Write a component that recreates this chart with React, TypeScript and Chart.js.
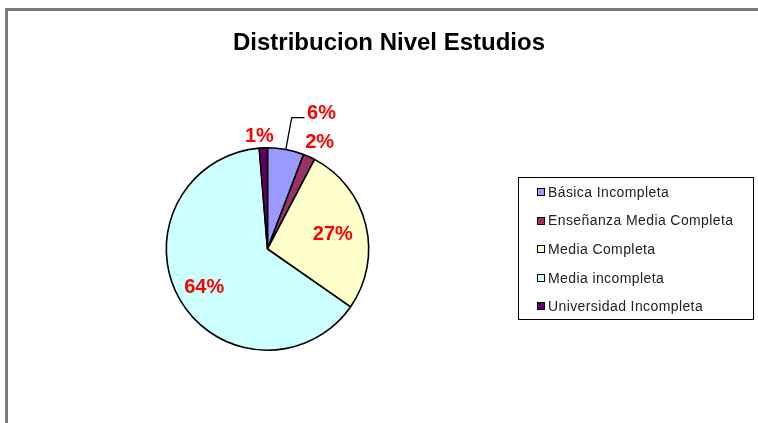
import React, { useEffect, useRef } from 'react';
import { Chart, registerables } from 'chart.js';

Chart.register(...registerables);

const chartTitle = 'Distribucion Nivel Estudios';
const categories = [
  'Básica Incompleta',
  'Enseñanza Media Completa',
  'Media Completa',
  'Media incompleta',
  'Universidad Incompleta',
];
const values = [5.8, 1.9, 27.0, 64.0, 1.3];
const sliceColors = ['#9999FF', '#993366', '#FFFFCC', '#CCFFFF', '#660066'];

// label placement relative to each slice: radial factor and angular shift (degrees)
const labelPlacement = [
  { r: 1.44, shift: 11.3, leader: true },
  { r: 1.17, shift: 1.8, leader: false },
  { r: 0.66, shift: 1.5, leader: false },
  { r: 0.73, shift: -1.1, leader: false },
  { r: 1.11, shift: -1.8, leader: false },
];

const W = 758;
const H = 423;

const decorPlugin = {
  id: 'decor',
  beforeDraw(chart: any) {
    const ctx = chart.ctx;
    ctx.save();
    ctx.fillStyle = '#ffffff';
    ctx.fillRect(0, 0, W, H);
    ctx.strokeStyle = '#7a7a7a';
    ctx.lineWidth = 3;
    ctx.beginPath();
    ctx.moveTo(6.5, H + 5);
    ctx.lineTo(6.5, 9.5);
    ctx.lineTo(W + 5, 9.5);
    ctx.stroke();
    // title
    ctx.fillStyle = '#000000';
    ctx.font = 'bold 24px "Liberation Sans", Arial, sans-serif';
    ctx.textAlign = 'center';
    ctx.textBaseline = 'alphabetic';
    ctx.fillText(chartTitle, 389, 50);
    ctx.restore();
  },
  afterDraw(chart: any) {
    const ctx = chart.ctx;
    const meta = chart.getDatasetMeta(0);
    const total = values.reduce((a, b) => a + b, 0);
    ctx.save();
    meta.data.forEach((arc: any, i: number) => {
      const p = arc.getProps(['x', 'y', 'startAngle', 'endAngle', 'outerRadius'], true);
      const mid = (p.startAngle + p.endAngle) / 2;
      const pl = labelPlacement[i];
      const a = mid + (pl.shift * Math.PI) / 180;
      const lx = p.x + Math.cos(a) * p.outerRadius * pl.r;
      const ly = p.y + Math.sin(a) * p.outerRadius * pl.r;
      if (pl.leader) {
        const x1 = p.x + Math.cos(mid) * p.outerRadius;
        const y1 = p.y + Math.sin(mid) * p.outerRadius;
        const x2 = p.x + Math.cos(mid) * p.outerRadius * 1.32;
        const y2 = p.y + Math.sin(mid) * p.outerRadius * 1.32;
        ctx.strokeStyle = '#000000';
        ctx.lineWidth = 1.3;
        ctx.beginPath();
        ctx.moveTo(x1, y1);
        ctx.lineTo(x2, y2);
        ctx.lineTo(lx - 17, y2);
        ctx.stroke();
      }
      const pct = Math.round((values[i] / total) * 100) + '%';
      ctx.fillStyle = '#FF0000';
      ctx.font = 'bold 20px "Liberation Sans", Arial, sans-serif';
      ctx.textAlign = 'center';
      ctx.textBaseline = 'middle';
      ctx.fillText(pct, lx, ly);
    });

    // legend
    const bx = 518.5, by = 177.5, bw = 235, bh = 142;
    ctx.strokeStyle = '#000000';
    ctx.lineWidth = 1;
    ctx.strokeRect(bx, by, bw, bh);
    ctx.font = '14px "Liberation Sans", Arial, sans-serif';
    (ctx as any).letterSpacing = '0.4px';
    ctx.textAlign = 'left';
    ctx.textBaseline = 'middle';
    categories.forEach((c, i) => {
      const cy = 192 + i * 28.6;
      ctx.fillStyle = sliceColors[i];
      ctx.fillRect(537, Math.round(cy - 4), 8, 8);
      ctx.strokeStyle = '#000000';
      ctx.strokeRect(537.5, Math.round(cy - 4) + 0.5, 7, 7);
      ctx.fillStyle = '#222222';
      ctx.fillText(c, 548, cy + 1);
    });
    ctx.restore();
  },
};

export default function App() {
  const ref = useRef<HTMLCanvasElement | null>(null);
  useEffect(() => {
    if (!ref.current) return;
    const chart = new Chart(ref.current, {
      type: 'pie',
      data: {
        labels: categories,
        datasets: [
          {
            data: values,
            backgroundColor: sliceColors,
            borderColor: '#000000',
            borderWidth: 1.6,
          },
        ],
      },
      options: {
        responsive: false,
        animation: false,
        layout: { padding: { left: 165, right: 388, top: 147, bottom: 72 } },
        plugins: {
          legend: { display: false },
          title: { display: false },
          tooltip: { enabled: false },
        },
      },
      plugins: [decorPlugin],
    });
    return () => chart.destroy();
  }, []);
  return (
    <div style={{ position: 'fixed', left: 0, top: 0, width: W, height: H, background: '#fff' }}>
      <canvas ref={ref} width={W} height={H} style={{ display: 'block', width: W, height: H }} />
    </div>
  );
}
